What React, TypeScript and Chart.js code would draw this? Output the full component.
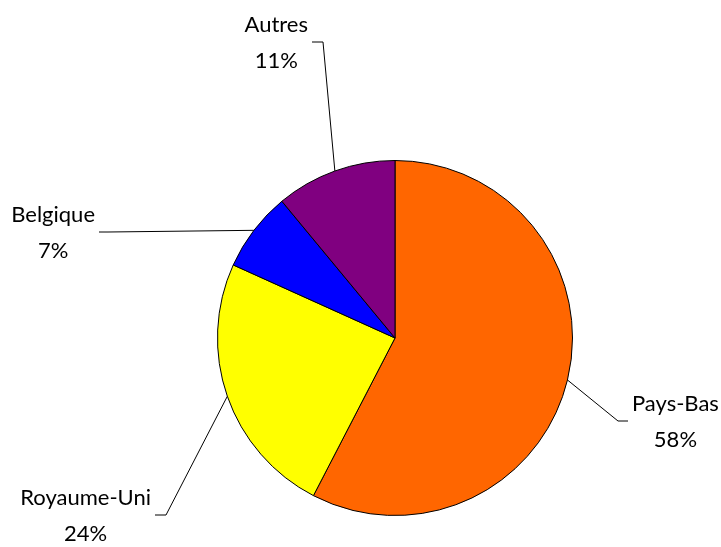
import React, { useEffect, useRef } from "react";
import { Chart, registerables } from "chart.js";

Chart.register(...registerables);

const categories = ["Pays-Bas", "Royaume-Uni", "Belgique", "Autres"];
const shares = [57.6, 24.15, 7.25, 11.0];
const colors = ["#FF6600", "#FFFF00", "#0000FF", "#800080"];

// leader-line elbow offsets from pie centre and horizontal tail length (px)
const elbows = [
  { dx: 223, dy: 83, tail: 10 },
  { dx: -229, dy: 177, tail: -11 },
  { dx: -287, dy: -106, tail: -9 },
  { dx: -72, dy: -296, tail: -11 },
];

const FONT = "22px Lato, 'Open Sans', sans-serif";

const labelPlugin = {
  id: "leaderLabels",
  afterDraw(chart: any) {
    const ctx = chart.ctx;
    const meta = chart.getDatasetMeta(0);
    const total = shares.reduce((a, b) => a + b, 0);
    ctx.save();
    ctx.font = FONT;
    ctx.fillStyle = "#000";
    ctx.strokeStyle = "#000";
    ctx.lineWidth = 1;
    meta.data.forEach((arc: any, i: number) => {
      const p = arc.getProps(["x", "y", "startAngle", "endAngle", "outerRadius"], true);
      const mid = (p.startAngle + p.endAngle) / 2;
      const ax = p.x + Math.cos(mid) * p.outerRadius;
      const ay = p.y + Math.sin(mid) * p.outerRadius;
      const e = elbows[i];
      const ex = p.x + e.dx;
      const ey = p.y + e.dy;
      const tx = ex + e.tail;
      ctx.beginPath();
      ctx.moveTo(ax, ay);
      ctx.lineTo(ex, ey);
      ctx.lineTo(tx, ey);
      ctx.stroke();
      const label = categories[i];
      const pct = Math.round((shares[i] / total) * 100) + "%";
      const w = Math.max(ctx.measureText(label).width, ctx.measureText(pct).width);
      const cx = e.tail > 0 ? tx + 4 + w / 2 : tx - 4 - w / 2;
      ctx.textAlign = "center";
      ctx.textBaseline = "alphabetic";
      ctx.fillText(label, cx, ey - 10);
      ctx.fillText(pct, cx, ey + 26);
    });
    ctx.restore();
  },
};

export default function App() {
  const ref = useRef<HTMLCanvasElement>(null);
  useEffect(() => {
    if (!ref.current) return;
    const chart = new Chart(ref.current, {
      type: "pie",
      data: {
        labels: categories,
        datasets: [
          {
            data: shares,
            backgroundColor: colors,
            borderColor: "#000",
            borderWidth: 1,
          },
        ],
      },
      options: {
        responsive: false,
        devicePixelRatio: 1,
        animation: false,
        layout: { padding: { left: 217, right: 148, top: 160, bottom: 31 } },
        plugins: { legend: { display: false }, tooltip: { enabled: false } },
      },
      plugins: [labelPlugin],
    });
    return () => chart.destroy();
  }, []);
  return (
    <div style={{ position: "fixed", left: 0, top: 0, width: 721, height: 547, background: "#fff" }}>
      <canvas ref={ref} width={721} height={547} style={{ display: "block" }} />
    </div>
  );
}
